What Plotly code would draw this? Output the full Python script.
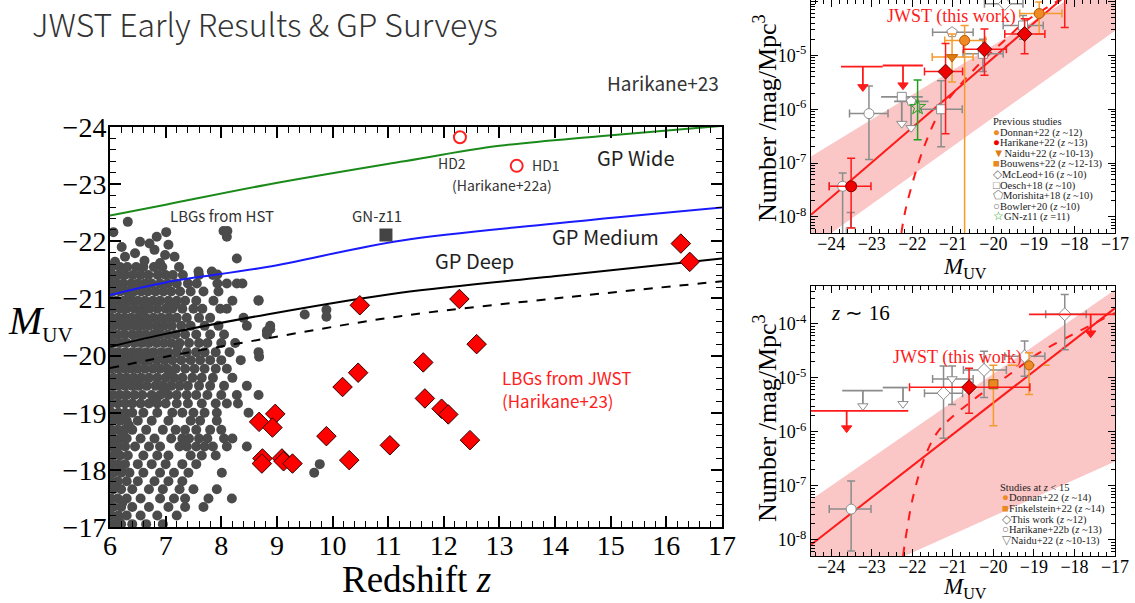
import plotly.graph_objects as go

W, H = 1135, 603
def px(x): return x / W
def py(y): return 1 - y / H

SERIF = "Liberation Serif, Times New Roman, serif"
SANS = "Noto Sans CJK JP, Noto Sans, sans-serif"

# ---------------- main panel data (redshift vs M_UV) ----------------
wide_z = [6, 7, 8.82, 11.22, 13, 14.8, 17]
wide_m = [-22.45, -22.64, -22.99, -23.39, -23.67, -23.84, -24.02]
medium_z = [6, 7, 8.82, 11.22, 14, 17]
medium_m = [-21.06, -21.28, -21.55, -22.01, -22.31, -22.59]
deep_z = [6, 7, 8.82, 11.22, 14.2, 17]
deep_m = [-20.155, -20.38, -20.72, -21.10, -21.41, -21.70]
deep2_z = [6, 7, 8.82, 11.22, 14.2, 17]
deep2_m = [-19.78, -19.98, -20.30, -20.69, -21.02, -21.30]

# HST LBGs read row by row (M_UV row value, redshifts in that row)
hst_rows_m = [-21.55, -21.41, -21.26, -21.12, -20.96, -20.82, -20.66, -20.52, -20.37, -20.22,
              -20.06, -19.92, -19.77, -19.61, -19.47, -19.31, -19.16, -19.0, -18.86, -18.7,
              -18.55, -18.41, -18.25, -18.1, -17.95, -17.8, -17.66, -17.5, -17.35, -17.2, -17.05]
hst_rows_z = [
    [6.03, 6.18, 6.31, 6.47, 6.6, 6.79, 6.94, 7.24],
    [6.05, 6.15, 6.27, 6.41, 6.55, 6.69, 6.86, 7.0, 7.13, 7.31, 7.6, 7.85],
    [6.02, 6.12, 6.24, 6.38, 6.5, 6.63, 6.75, 6.9, 7.04, 7.2, 7.4, 7.56, 7.93, 8.1, 8.28, 8.38],
    [6.05, 6.18, 6.3, 6.43, 6.56, 6.68, 6.82, 6.96, 7.1, 7.26, 7.45, 7.68, 7.95],
    [6.02, 6.12, 6.25, 6.37, 6.5, 6.63, 6.77, 6.9, 7.05, 7.2, 7.35, 7.55, 7.86, 8.2, 8.67],
    [6.06, 6.19, 6.3, 6.44, 6.58, 6.71, 6.85, 7.0, 7.12, 7.3, 7.5, 7.66, 7.98, 8.1],
    [6.02, 6.14, 6.26, 6.38, 6.5, 6.64, 6.78, 6.92, 7.06, 7.2, 7.38, 7.6, 7.8, 8.4],
    [6.06, 6.2, 6.32, 6.45, 6.57, 6.7, 6.84, 6.97, 7.11, 7.28, 7.45, 7.7, 7.95, 8.46, 8.88],
    [6.02, 6.13, 6.26, 6.4, 6.52, 6.64, 6.78, 6.9, 7.04, 7.18, 7.35, 7.55, 7.8, 8.05, 8.82],
    [6.06, 6.18, 6.3, 6.44, 6.57, 6.7, 6.84, 6.97, 7.1, 7.25, 7.42, 7.6, 7.75, 8.0, 8.25],
    [6.02, 6.14, 6.27, 6.4, 6.52, 6.65, 6.78, 6.92, 7.05, 7.2, 7.38, 7.55, 7.7, 7.9, 8.15, 8.67],
    [6.06, 6.2, 6.32, 6.45, 6.58, 6.7, 6.84, 6.98, 7.12, 7.28, 7.45, 7.62, 7.8, 8.0, 8.35],
    [6.02, 6.14, 6.26, 6.38, 6.5, 6.63, 6.77, 6.9, 7.03, 7.18, 7.35, 7.52, 7.7, 7.9, 8.1],
    [6.06, 6.18, 6.3, 6.43, 6.56, 6.7, 6.85, 7.0, 7.15, 7.3, 7.48, 7.65, 7.85, 8.2],
    [6.02, 6.14, 6.27, 6.4, 6.52, 6.66, 6.82, 6.95, 7.1, 7.25, 7.4, 7.6, 7.8, 8.05, 8.46],
    [6.06, 6.18, 6.3, 6.44, 6.58, 6.75, 6.9, 7.05, 7.2, 7.38, 7.55, 7.75, 8.0, 8.28, 8.67],
    [6.02, 6.14, 6.27, 6.4, 6.55, 6.7, 6.85, 7.0, 7.2, 7.4, 7.65, 7.9, 8.1, 8.3],
    [6.03, 6.15, 6.27, 6.4, 6.6, 6.85, 7.12, 7.3, 7.5, 7.7, 7.92, 8.49],
    [6.06, 6.18, 6.3, 6.5, 6.75, 7.05, 7.45, 7.62, 7.92],
    [6.02, 6.14, 6.26, 6.4, 6.65, 6.95, 7.18, 7.35, 7.55, 7.8, 8.0],
    [6.06, 6.18, 6.3, 6.55, 6.8, 7.1, 7.3, 7.42, 7.6, 7.75, 8.05, 8.2],
    [6.02, 6.14, 6.27, 6.45, 6.7, 6.9, 7.25, 7.38, 7.55, 7.7, 7.85, 8.1, 8.46],
    [6.06, 6.18, 6.32, 6.6, 6.85, 7.05, 7.45, 7.65, 7.9],
    [6.02, 6.14, 6.27, 6.5, 6.75, 7.0, 7.3, 7.55, 9.77],
    [6.06, 6.2, 6.35, 6.6, 6.9, 7.15, 7.41, 8.01, 9.67],
    [6.02, 6.14, 6.3, 6.5, 6.8, 7.05, 7.3],
    [6.06, 6.2, 6.4, 6.7, 6.95, 7.25, 7.5, 7.92],
    [6.02, 6.14, 6.3, 6.55, 6.9, 7.15, 7.35, 7.77, 8.19],
    [6.06, 6.2, 6.4, 6.7, 7.05, 7.35, 7.68],
    [6.02, 6.15, 6.3, 6.55, 6.85, 7.2],
    [6.06, 6.2, 6.4, 6.65, 6.95],
]
hst_extra_z = [6.06, 6.32, 6.54, 6.71, 6.84, 7.01, 7.05, 6.21, 6.45, 6.80, 7.16, 6.99, 6.27, 6.09,
               8.04, 8.11, 8.10, 8.28, 7.59, 7.83, 7.93, 9.50, 9.89, 9.89, 8.88, 8.67, 8.82, 8.68, 6.62, 6.9,
               6.36, 6.58, 6.88, 7.22, 6.14, 6.5, 6.74, 7.08, 6.43, 6.66, 6.97, 6.21, 6.56, 6.83, 7.15,
               6.1, 6.24, 6.12, 6.2, 6.08, 6.22, 6.16, 6.34]
hst_extra_m = [-22.16, -22.34, -21.99, -21.96, -22.08, -22.16, -21.94, -21.90, -21.79, -21.85, -21.73,
               -21.76, -21.73, -21.64, -22.18, -22.18, -22.08, -21.70, -21.47, -21.47, -21.42, -20.72,
               -20.80, -20.68, -20.46, -20.97, -20.43, -19.98, -21.66, -21.62,
               -21.04, -20.74, -20.45, -20.15, -19.84, -19.55, -20.3, -19.7, -21.2, -20.9, -19.4,
               -20.6, -20.03, -19.2, -20.88,
               -18.95, -18.6, -18.33, -18.02, -17.72, -17.42, -17.12, -18.78]

gnz11_z = [10.96]
gnz11_m = [-22.11]
hd_z = [12.29, 13.31]
hd_m = [-23.82, -23.32]
jwst_z = [16.26, 16.42, 12.28, 10.49, 12.59, 11.63, 10.46, 10.18, 11.66, 11.96, 12.08, 12.47,
          9.89, 11.03, 8.68, 8.97, 8.92, 10.30, 8.74, 8.73, 9.09, 9.12, 9.28]
jwst_m = [-21.96, -21.64, -20.99, -20.88, -20.20, -19.88, -19.70, -19.45, -19.25, -19.07, -18.97,
          -18.52, -18.59, -18.43, -18.84, -18.98, -18.74, -18.17, -18.20, -18.11, -18.20, -18.15, -18.11]

# ---------------- upper-right panel (z~12 UV LF) ----------------
fitA_m = [-24.5, -17.0]
fitA_logphi = [-7.96, -3.10]
bandA_up = [-6.88, -3.43]
bandA_lo = [-8.57, -4.54]
schA_m = [-22.27, -22.15, -21.74, -21.33, -20.9, -20.5, -20.09, -19.68, -19.28, -18.87, -18.4]
schA_logphi = [-8.3, -7.81, -6.76, -6.06, -5.62, -5.28, -4.97, -4.69, -4.41, -4.2, -3.98]

jA_m = [-21.18, -20.22, -19.23, -18.24]
jA_phi = [5.0e-6, 1.3e-5, 2.5e-5, 1.5e-4]
jA_lo = [3.5e-7, 4.3e-6, 1.07e-5, 3.3e-5]
jA_hi = [1.66e-5, 3.1e-5, 4.8e-5, 3.5e-4]
jA_mlo = [-21.7, -20.74, -19.72, -18.71]
jA_mhi = [-20.76, -19.68, -18.73, -17.71]
ulA_m = [-23.22, -22.23]
ulA_phi = [6.2e-6, 6.5e-6]
ulA_tip = [2.6e-6, 2.8e-6]
ulA_mlo = [-23.76, -22.73]
ulA_mhi = [-22.73, -21.74]

har22_m = [-23.51]; har22_phi = [3.7e-8]; har22_lo = [6.2e-9]; har22_hi = [1.23e-7]
har22_mlo = [-24.05]; har22_mhi = [-23.02]
don12_m = [-20.71, -18.87]; don12_phi = [1.9e-5, 6.0e-5]
don12_lo = [1e-9, 2.5e-5]; don12_hi = [3.6e-5, 9.8e-5]
don12_mlo = [-21.2, -19.35]; don12_mhi = [-20.19, -18.31]
nai_m = [-21.02]; nai_phi = [9.3e-6]; nai_lo = [3.2e-6]; nai_hi = [2.5e-5]
nai_mlo = [-21.51]; nai_mhi = [-20.5]
mcl_m = [-19.72]; mcl_phi = [9.1e-5]; mcl_mlo = [-20.22]; mcl_mhi = [-19.27]
oes_m = [-21.29, -20.26, -19.27, -23.52]; oes_phi = [1.0e-6, 1.07e-5, 3.6e-5, 5.2e-9]
oes_lo = [2.0e-7, 5e-6, 2e-5, 1e-9]; oes_hi = [3.4e-6, 2.0e-5, 5.5e-5, 1.2e-8]
oes_mlo = [-21.82, -20.75, -19.76, -23.52]; oes_mhi = [-20.77, -19.76, -18.77, -23.52]
oesul_m = [-22.26]; oesul_phi = [1.7e-6]; oesul_tip = [5.4e-7]; oesul_mlo = [-22.77]; oesul_mhi = [-21.74]
mor_m = [-21.02]; mor_phi = [2.7e-5]; mor_mlo = [-21.5]; mor_mhi = [-20.5]
morul_m = [-22.03]; morul_phi = [1.4e-6]; morul_tip = [4.5e-7]; morul_mlo = [-22.45]; morul_mhi = [-21.6]
bow_m = [-23.07, -23.72]; bow_phi = [8.3e-7, 3.7e-8]
bow_lo = [1.17e-7, 1e-9]; bow_hi = [2.7e-6, 6.5e-8]
bow_mlo = [-23.55, -24.05]; bow_mhi = [-22.6, -23.4]
gnlf_m = [-21.87]; gnlf_phi = [1.1e-6]; gnlf_lo = [2.7e-7]; gnlf_hi = [3.5e-6]

# ---------------- lower-right panel (z~16 UV LF) ----------------
fitB_m = [-24.5, -17.0]
fitB_logphi = [-8.09, -3.71]
bandB_up = [-7.26, -3.37]
bandB_lo = [-9.08, -6.55]
schB_m = [-22.23, -21.98, -21.65, -21.33, -20.5, -19.68, -18.87, -18.05, -17.0]
schB_logphi = [-8.3, -7.2, -6.39, -5.96, -5.41, -4.98, -4.54, -4.2, -3.8]

jB_m = [-20.6]; jB_phi = [6.7e-6]; jB_lo = [2.2e-6]; jB_hi = [1.5e-5]
jB_mlo = [-22.07]; jB_mhi = [-19.1]
ulB_m = [-23.62, -17.6]; ulB_phi = [2.45e-6, 1.5e-4]; ulB_tip = [1.17e-6, 6.7e-5]
ulB_mlo = [-24.5, -19.12]; ulB_mhi = [-22.1, -17.0]
tw12_m = [-21.23, -20.23, -19.23, -18.24]; tw12_phi = [5.2e-6, 1.4e-5, 2.5e-5, 1.5e-4]
tw12_lo = [7.6e-7, 4.3e-6, 1.07e-5, 3.3e-5]; tw12_hi = [1.66e-5, 3.1e-5, 4.8e-5, 3.5e-4]
tw12_mlo = [-21.7, -20.74, -19.72, -18.71]; tw12_mhi = [-20.76, -19.68, -18.73, -17.71]
nB_m = [-21.02]; nB_phi = [9.5e-6]; nB_lo = [3.2e-6]; nB_hi = [1.66e-5]; nB_mlo = [-21.5]; nB_mhi = [-20.5]
nBul_m = [-23.22, -22.23]; nBul_phi = [5.8e-6, 6.6e-6]; nBul_tip = [3.0e-6, 3.3e-6]
nBul_mlo = [-23.73, -22.73]; nBul_mhi = [-22.73, -22.11]
h22b_m = [-23.51]; h22b_phi = [3.7e-8]; h22b_lo = [6.2e-9]; h22b_hi = [1.23e-7]
h22b_mlo = [-24.05]; h22b_mhi = [-23.02]
don14_m = [-19.12]; don14_phi = [1.7e-5]; don14_lo = [4.9e-6]; don14_hi = [2.9e-5]
don14_mlo = [-19.64]; don14_mhi = [-18.61]
fin_m = [-20.0]; fin_phi = [7.6e-6]; fin_lo = [1.3e-6]; fin_hi = [1.7e-5]

logtick_vals = [1e-9, 1e-8, 1e-7, 1e-6, 1e-5, 1e-4, 1e-3]
logtick_text = ["10<sup>-9</sup>", "10<sup>-8</sup>", "10<sup>-7</sup>", "10<sup>-6</sup>",
                "10<sup>-5</sup>", "10<sup>-4</sup>", "10<sup>-3</sup>"]

RED = "#ff1a1a"
ORANGE = "#f59a2c"
GRAY = "#8c8c8c"

fig = go.Figure()

# ---- main panel ----
hz, hm = [], []
for m, zs in zip(hst_rows_m, hst_rows_z):
    for z in zs:
        hz.append(z); hm.append(m)
hz += hst_extra_z; hm += hst_extra_m
fig.add_trace(go.Scatter(x=hz, y=hm, mode="markers", xaxis="x", yaxis="y",
                         marker=dict(size=10, color="#4b4b4b"), showlegend=False))
for zz, mm, col, dash in [(wide_z, wide_m, "#1a8a1a", "solid"), (medium_z, medium_m, "#1a1aff", "solid"),
                          (deep_z, deep_m, "black", "solid"), (deep2_z, deep2_m, "black", "dash")]:
    fig.add_trace(go.Scatter(x=zz, y=mm, mode="lines", xaxis="x", yaxis="y", line_shape="spline",
                             line=dict(color=col, width=2, dash=dash), showlegend=False))
fig.add_trace(go.Scatter(x=gnz11_z, y=gnz11_m, mode="markers", xaxis="x", yaxis="y",
                         marker=dict(symbol="square", size=13, color="#444444"), showlegend=False))
fig.add_trace(go.Scatter(x=hd_z, y=hd_m, mode="markers", xaxis="x", yaxis="y",
                         marker=dict(symbol="circle-open", size=12, color="#ff2020", line=dict(width=2)),
                         showlegend=False))
fig.add_trace(go.Scatter(x=jwst_z, y=jwst_m, mode="markers", xaxis="x", yaxis="y",
                         marker=dict(symbol="diamond", size=15, color="#ff0000",
                                     line=dict(color="#300000", width=1)), showlegend=False))


def lf_panel(xa, ya, fit_m, fit_lp, band_up, band_lo, sch_m, sch_lp):
    fig.add_trace(go.Scatter(x=fit_m, y=[10 ** v for v in band_lo], mode="lines", xaxis=xa, yaxis=ya,
                             line=dict(width=0, color="rgba(0,0,0,0)"), showlegend=False))
    fig.add_trace(go.Scatter(x=fit_m, y=[10 ** v for v in band_up], mode="lines", xaxis=xa, yaxis=ya,
                             fill="tonexty", fillcolor="#fac6c6",
                             line=dict(width=0, color="rgba(0,0,0,0)"), showlegend=False))
    fig.add_trace(go.Scatter(x=sch_m, y=[10 ** v for v in sch_lp], mode="lines", xaxis=xa, yaxis=ya,
                             line_shape="spline", line=dict(color=RED, width=2, dash="dash"), showlegend=False))
    fig.add_trace(go.Scatter(x=fit_m, y=[10 ** v for v in fit_lp], mode="lines", xaxis=xa, yaxis=ya,
                             line=dict(color=RED, width=2), showlegend=False))


def pts(xa, ya, m, phi, lo=None, hi=None, mlo=None, mhi=None, symbol="circle", size=9,
        fill="white", edge=GRAY, ecol=GRAY, xdash=False):
    kw = {}
    if lo is not None:
        kw["error_y"] = dict(type="data", symmetric=False,
                             array=[h - p for h, p in zip(hi, phi)],
                             arrayminus=[p - l for p, l in zip(phi, lo)],
                             color=ecol, thickness=1.5, width=4)
    if mlo is not None and not xdash:
        kw["error_x"] = dict(type="data", symmetric=False,
                             array=[b - a for b, a in zip(mhi, m)],
                             arrayminus=[a - b for a, b in zip(m, mlo)],
                             color=ecol, thickness=1.5, width=4)
    if mlo is not None and xdash:
        xs, ys = [], []
        for a, b, p in zip(mlo, mhi, phi):
            xs += [a, b, None]; ys += [p, p, None]
        fig.add_trace(go.Scatter(x=xs, y=ys, mode="lines", xaxis=xa, yaxis=ya,
                                 line=dict(color=ecol, width=1.5, dash="dash"), showlegend=False))
    fig.add_trace(go.Scatter(x=m, y=phi, mode="markers", xaxis=xa, yaxis=ya,
                             marker=dict(symbol=symbol, size=size, color=fill, line=dict(color=edge, width=1)),
                             showlegend=False, **kw))


def ulim(xa, ya, m, phi, tip, mlo, mhi, col, tipsym, tipfill, tipsize):
    xs, ys = [], []
    for a, b, p in zip(mlo, mhi, phi):
        xs += [a, b, None]; ys += [p, p, None]
    for a, p, t in zip(m, phi, tip):
        xs += [a, a, None]; ys += [p, t, None]
    fig.add_trace(go.Scatter(x=xs, y=ys, mode="lines", xaxis=xa, yaxis=ya,
                             line=dict(color=col, width=1.8), showlegend=False))
    fig.add_trace(go.Scatter(x=m, y=tip, mode="markers", xaxis=xa, yaxis=ya,
                             marker=dict(symbol=tipsym, size=tipsize, color=tipfill, line=dict(color=col, width=1)),
                             showlegend=False))


# ---- upper right panel ----
lf_panel("x2", "y2", fitA_m, fitA_logphi, bandA_up, bandA_lo, schA_m, schA_logphi)
pts("x2", "y2", bow_m, bow_phi, bow_lo, bow_hi, bow_mlo, bow_mhi, "circle", 10)
pts("x2", "y2", oes_m, oes_phi, oes_lo, oes_hi, oes_mlo, oes_mhi, "square", 9)
ulim("x2", "y2", oesul_m, oesul_phi, oesul_tip, oesul_mlo, oesul_mhi, GRAY, "triangle-down", "white", 9)
pts("x2", "y2", oesul_m, oesul_phi, symbol="square", size=9)
ulim("x2", "y2", morul_m, morul_phi, morul_tip, morul_mlo, morul_mhi, GRAY, "triangle-down", "white", 9)
pts("x2", "y2", morul_m, morul_phi, symbol="pentagon", size=10)
pts("x2", "y2", mor_m, mor_phi, None, None, mor_mlo, mor_mhi, "pentagon", 11)
pts("x2", "y2", mcl_m, mcl_phi, None, None, mcl_mlo, mcl_mhi, "diamond", 10)
pts("x2", "y2", gnlf_m, gnlf_phi, gnlf_lo, gnlf_hi, symbol="star-open", size=12, fill="#20a020",
    edge="#20a020", ecol="#20a020")
pts("x2", "y2", nai_m, nai_phi, nai_lo, nai_hi, nai_mlo, nai_mhi, "triangle-down", 10,
    fill="#e07b10", edge="#c06000", ecol=ORANGE)
pts("x2", "y2", don12_m, don12_phi, don12_lo, don12_hi, don12_mlo, don12_mhi, "circle", 10,
    fill="#f08a24", edge="#b35a00", ecol=ORANGE)
ulim("x2", "y2", ulA_m, ulA_phi, ulA_tip, ulA_mlo, ulA_mhi, RED, "triangle-down", RED, 9)
pts("x2", "y2", har22_m, har22_phi, har22_lo, har22_hi, har22_mlo, har22_mhi, "circle", 11,
    fill="#ee0000", edge="#900000", ecol=RED)
pts("x2", "y2", jA_m, jA_phi, jA_lo, jA_hi, jA_mlo, jA_mhi, "diamond", 11.5,
    fill="#ee0000", edge="#700000", ecol=RED)

# ---- lower right panel ----
lf_panel("x3", "y3", fitB_m, fitB_logphi, bandB_up, bandB_lo, schB_m, schB_logphi)
pts("x3", "y3", h22b_m, h22b_phi, h22b_lo, h22b_hi, h22b_mlo, h22b_mhi, "circle", 10)
ulim("x3", "y3", nBul_m, nBul_phi, nBul_tip, nBul_mlo, nBul_mhi, GRAY, "triangle-down", "white", 9)
pts("x3", "y3", nB_m, nB_phi, nB_lo, nB_hi, nB_mlo, nB_mhi, "triangle-down", 9)
pts("x3", "y3", tw12_m, tw12_phi, tw12_lo, tw12_hi, tw12_mlo, tw12_mhi, "diamond", 10)
pts("x3", "y3", fin_m, fin_phi, fin_lo, fin_hi, symbol="square", size=9,
    fill="#e88a20", edge="#a05000", ecol=ORANGE)
pts("x3", "y3", don14_m, don14_phi, don14_lo, don14_hi, don14_mlo, don14_mhi, "circle", 9,
    fill="#f08a24", edge="#b35a00", ecol=ORANGE, xdash=True)
ulim("x3", "y3", ulB_m, ulB_phi, ulB_tip, ulB_mlo, ulB_mhi, RED, "triangle-down", RED, 9)
pts("x3", "y3", jB_m, jB_phi, jB_lo, jB_hi, jB_mlo, jB_mhi, "diamond", 11.5,
    fill="#ee0000", edge="#700000", ecol=RED)

# ---------------- axes ----------------
minor_log = [k * 10.0 ** e for e in range(-10, -2) for k in range(2, 10)]
common_lin = dict(showgrid=False, zeroline=False, showline=True, linecolor="black", mirror="ticks",
                  ticks="inside", tickcolor="black", automargin=False)
main_x = dict(common_lin, domain=[px(110), px(722)], anchor="y", range=[6, 17], dtick=1, tick0=0,
              linewidth=2, tickwidth=1.5, ticklen=11, ticklabelstandoff=-8,
              minor=dict(ticks="inside", dtick=0.2, ticklen=6, tickwidth=1.2, tickcolor="black"),
              tickfont=dict(family=SERIF, size=28, color="black"))
main_y = dict(common_lin, domain=[py(527), py(127)], anchor="x", range=[-17, -24], dtick=1,
              linewidth=2, tickwidth=1.5, ticklen=11, ticklabelstandoff=-4,
              minor=dict(ticks="inside", dtick=0.2, ticklen=6, tickwidth=1.2, tickcolor="black"),
              tickfont=dict(family=SERIF, size=28, color="black"))
rx = dict(common_lin, range=[-24.5, -17], dtick=1, linewidth=1.2, tickwidth=1, ticklen=7,
          ticklabelstandoff=-6,
          minor=dict(ticks="inside", dtick=0.2, ticklen=3.5, tickwidth=0.8, tickcolor="black"),
          tickfont=dict(family=SERIF, size=18, color="black"))
ry = dict(common_lin, type="log", tickmode="array", tickvals=logtick_vals, ticktext=logtick_text,
          linewidth=1.2, tickwidth=1, ticklen=7,
          minor=dict(ticks="inside", tickmode="array", tickvals=minor_log, ticklen=3.5, tickwidth=0.8,
                     tickcolor="black"),
          tickfont=dict(family=SERIF, size=18, color="black"))

fig.update_layout(
    template="none",
    width=W, height=H, margin=dict(l=0, r=0, t=0, b=0, pad=0), autosize=False,
    paper_bgcolor="white", plot_bgcolor="rgba(0,0,0,0)", showlegend=False,
    xaxis=main_x, yaxis=main_y,
    xaxis2=dict(rx, domain=[px(811), px(1115)], anchor="y2"),
    yaxis2=dict(ry, domain=[py(233), 1.0], anchor="x2", range=[-8.3, -3.97]),
    xaxis3=dict(rx, domain=[px(811), px(1115)], anchor="y3"),
    yaxis3=dict(ry, domain=[py(556), py(286)], anchor="x3", range=[-8.3, -3.3]),
)

ann = []
def A(text, x, y, size, color="black", family=SANS, xanchor="center", xref="paper", yref="paper", **kw):
    ann.append(dict(text=text, x=x, y=y, xref=xref, yref=yref, showarrow=False, xanchor=xanchor,
                    yanchor="middle", font=dict(family=family, size=size, color=color), **kw))

ann.append(dict(text="JWST Early Results &amp; GP Surveys", x=px(30), y=py(23), xref="paper", yref="paper",
                showarrow=False, xanchor="left", yanchor="middle",
                font=dict(family=SANS, size=32, color="#333333", weight=300)))
A("Harikane+23", px(721), py(82), 19, "#333333", xanchor="right")
A("<i>M</i><sub><span style='font-size:21px'>UV</span></sub>", px(40), py(322), 40, family=SERIF)
A("Redshift <i>z</i>", px(416), py(579), 37, family=SERIF)
A("LBGs from HST", 8.01, -22.46, 15, "#333333", xref="x", yref="y")
A("GN-z11", 10.80, -22.46, 15, "#333333", xref="x", yref="y")
A("HD2", 12.15, -23.37, 14, "#333333", xref="x", yref="y")
A("HD1", 13.84, -23.33, 14, "#333333", xref="x", yref="y")
A("(Harikane+22a)", 13.05, -22.98, 14, "#333333", xref="x", yref="y")
A("GP Wide", 15.44, -23.46, 20, "#222222", xref="x", yref="y")
A("GP Medium", 14.9, -22.09, 20, "#222222", xref="x", yref="y")
A("GP Deep", 12.56, -21.67, 20, "#222222", xref="x", yref="y")
A("LBGs from JWST", 13.01, -19.61, 17, "#ff2020", xanchor="left", xref="x", yref="y")
A("(Harikane+23)", 13.01, -19.22, 17, "#ff2020", xanchor="left", xref="x", yref="y")

# right panels
A("Number /mag/Mpc<sup>3</sup>", px(765), py(118), 26, family=SERIF, textangle=-90)
A("Number /mag/Mpc<sup>3</sup>", px(765), py(418), 26, family=SERIF, textangle=-90)
A("<i>M</i><sub>UV</sub>", px(965), py(268), 23, family=SERIF)
A("<i>M</i><sub>UV</sub>", px(965), py(588), 23, family=SERIF)
A("JWST (this work)", px(951), py(17), 18, "#ff1a1a", family=SERIF)
A("JWST (this work)", px(957), py(357), 18, "#ff1a1a", family=SERIF)
A("<i>z</i> ∼ 16", px(860), py(313), 21, family=SERIF)

legA = [("Previous studies", None, None),
        ("Donnan+22 (<i>z</i> ~12)", "●", "#f08a24"),
        ("Harikane+22 (<i>z</i> ~13)", "●", "#ee0000"),
        ("Naidu+22 (<i>z</i> ~10-13)", "▼", "#e07b10"),
        ("Bouwens+22 (<i>z</i> ~12-13)", "■", "#e88a20"),
        ("McLeod+16 (<i>z</i> ~10)", "◇", "#777777"),
        ("Oesch+18 (<i>z</i> ~10)", "□", "#777777"),
        ("Morishita+18 (<i>z</i> ~10)", "⬠", "#777777"),
        ("Bowler+20 (<i>z</i> ~10)", "○", "#777777"),
        ("GN-z11 (<i>z</i> =11)", "☆", "#20a020")]
for i, (t, g, c) in enumerate(legA):
    txt = t if g is None else f'<span style="color:{c};font-size:11.5px">{g}</span>{t}'
    A(txt, px(991), py(121.5 + 10.6 * i), 10.5, "#222222", family=SERIF, xanchor="left")

legB = [("Studies at <i>z</i> &lt; 15", None, None),
        ("Donnan+22 (<i>z</i> ~14)", "●", "#f08a24"),
        ("Finkelstein+22 (<i>z</i> ~14)", "■", "#e88a20"),
        ("This work (<i>z</i> ~12)", "◇", "#777777"),
        ("Harikane+22b (<i>z</i> ~13)", "○", "#777777"),
        ("Naidu+22 (<i>z</i> ~10-13)", "▽", "#777777")]
for i, (t, g, c) in enumerate(legB):
    txt = t if g is None else f'<span style="color:{c};font-size:11.5px">{g}</span>{t}'
    A(txt, px(998 if g is None else 1000), py(487 + 10.7 * i), 10.5, "#222222", family=SERIF, xanchor="left")

fig.update_layout(annotations=ann)
fig.write_html("out.html")
